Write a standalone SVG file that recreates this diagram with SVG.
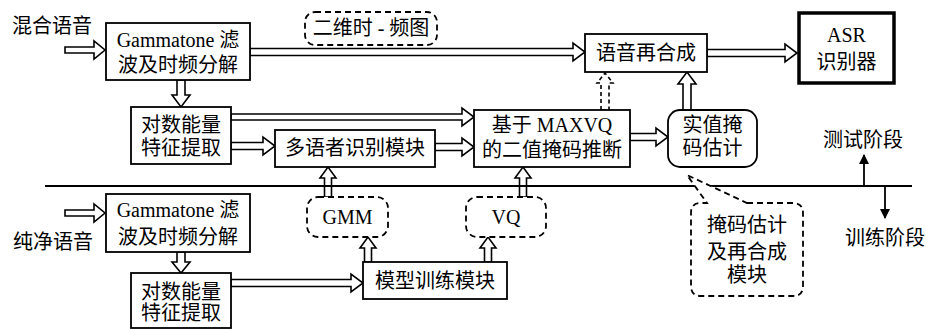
<svg xmlns="http://www.w3.org/2000/svg" width="926" height="329" viewBox="0 0 926 329">
<defs>
<style>
text{font-family:"Liberation Serif","Noto Sans CJK SC",serif;font-size:20px;fill:#000}
.c{text-anchor:middle}
.box{fill:#fff;stroke:#000;stroke-width:1.8}
.dbox{fill:#fff;stroke:#000;stroke-width:1.8;stroke-dasharray:6 4}
.ha{fill:#fff;stroke:#000;stroke-width:1.6;stroke-linejoin:miter}
.hd{fill:#fff;stroke:#000;stroke-width:1.6;stroke-dasharray:4 3}
.ln{stroke:#000;stroke-width:1.8;fill:none}
</style>
<marker id="ah" markerWidth="10" markerHeight="10" refX="9" refY="5" orient="auto" markerUnits="userSpaceOnUse">
<path d="M0,0 L10,5 L0,10 Z" fill="#000"/>
</marker>
</defs>

<g id="labels">
<text x="12" y="33">混合语音</text>
<text x="13" y="249">纯净语音</text>
<text x="823" y="147">测试阶段</text>
<text x="845" y="245">训练阶段</text>
</g>

<g id="connectors">
<!-- inputs -->
<polygon class="ha" points="65,47 94,47 94,41 105,50 94,59 94,53 65,53"/>
<polygon class="ha" points="65,210 94,210 94,204 105,213 94,222 94,216 65,216"/>
<!-- gammatone -> feature -->
<polygon class="ha" points="177,80 177,95 172,95 181,107 190,95 185,95 185,80"/>
<polygon class="ha" points="177,252 177,262 172,262 181,273 190,262 185,262 185,252"/>
<!-- gammatone -> 语音再合成 -->
<polygon class="ha" points="250,48.5 573,48.5 573,43 585,52 573,61 573,55.5 250,55.5"/>
<!-- feature -> MAXVQ -->
<polygon class="ha" points="231,114 462,114 462,108 474,117 462,126 462,120 231,120"/>
<!-- feature -> 多语者 -->
<polygon class="ha" points="231,142.5 263,142.5 263,137 275,146 263,155 263,149.5 231,149.5"/>
<!-- 多语者 -> MAXVQ -->
<polygon class="ha" points="435,143.5 462,143.5 462,138 474,147 462,156 462,150.5 435,150.5"/>
<!-- MAXVQ -> 实值 -->
<polygon class="ha" points="630,133.5 656,133.5 656,128 668,137 656,146 656,140.5 630,140.5"/>
<!-- 语音再合成 -> ASR -->
<polygon class="ha" points="707,49.5 785,49.5 785,44 797,53 785,62 785,56.5 707,56.5"/>
<!-- 实值 -> 语音再合成 -->
<polygon class="ha" points="683,110 683,84 678,84 687,72 696,84 691,84 691,110"/>
<!-- MAXVQ -> 语音再合成 dashed -->
<polygon class="hd" points="601,110 601,83 597,83 605,73 613,83 609,83 609,110"/>
<!-- feature2 -> model training -->
<polygon class="ha" points="231,279.5 351,279.5 351,274 363,283 351,292 351,286.5 231,286.5"/>
<!-- model -> GMM -->
<polygon class="ha" points="364.5,262 364.5,248 360,248 368,237 376,248 371.5,248 371.5,262"/>
<!-- model -> VQ -->
<polygon class="ha" points="484.5,262 484.5,248 480,248 488,237 496,248 491.5,248 491.5,262"/>
<!-- GMM -> 多语者 -->
<polygon class="ha" points="324.5,197 324.5,178 320,178 328,167 336,178 331.5,178 331.5,197"/>
<!-- VQ -> MAXVQ -->
<polygon class="ha" points="519.5,197 519.5,178 515,178 523,167 531,178 526.5,178 526.5,197"/>
<!-- separator -->
<line class="ln" x1="45" y1="186" x2="912" y2="186"/>
<line class="ln" x1="864" y1="186" x2="864" y2="155" marker-end="url(#ah)"/>
<line class="ln" x1="885" y1="186" x2="885" y2="218" marker-end="url(#ah)"/>
</g>

<g id="gammatone1">
<rect class="box" x="106" y="23" width="144" height="57"/>
<text class="c" x="178" y="47">Gammatone 滤</text>
<text class="c" x="178" y="72">波及时频分解</text>
</g>

<g id="feature1">
<rect class="box" x="131" y="107" width="100" height="57"/>
<text class="c" x="181" y="132">对数能量</text>
<text class="c" x="181" y="155">特征提取</text>
</g>

<g id="tf-map">
<rect class="dbox" x="305" y="12" width="132" height="33" rx="10"/>
<text class="c" x="371" y="35">二维时 - 频图</text>
</g>

<g id="speaker-id">
<rect class="box" x="275" y="130" width="160" height="37"/>
<text class="c" x="355" y="155">多语者识别模块</text>
</g>

<g id="maxvq">
<rect class="box" x="474" y="110" width="156" height="57"/>
<text class="c" x="552" y="132">基于 MAXVQ</text>
<text class="c" x="552" y="157">的二值掩码推断</text>
</g>

<g id="resynth">
<rect class="box" x="585" y="34" width="122" height="38"/>
<text class="c" x="646" y="60">语音再合成</text>
</g>

<g id="asr">
<rect x="799" y="13" width="95" height="70" fill="#fff" stroke="#000" stroke-width="3.5"/>
<text class="c" x="846.5" y="42">ASR</text>
<text class="c" x="846.5" y="69">识别器</text>
</g>

<g id="realmask">
<rect class="box" x="668" y="110" width="89" height="57" rx="12"/>
<text class="c" x="712.5" y="132">实值掩</text>
<text class="c" x="712.5" y="155">码估计</text>
</g>

<g id="gammatone2">
<rect class="box" x="106" y="194" width="144" height="58"/>
<text class="c" x="178" y="217">Gammatone 滤</text>
<text class="c" x="178" y="244">波及时频分解</text>
</g>

<g id="feature2">
<rect class="box" x="131" y="273" width="100" height="55"/>
<text class="c" x="181" y="299">对数能量</text>
<text class="c" x="181" y="320">特征提取</text>
</g>

<g id="gmm">
<rect class="dbox" x="307" y="197" width="81" height="40" rx="11"/>
<text class="c" x="347.5" y="224">GMM</text>
</g>

<g id="vq">
<rect class="dbox" x="466" y="197" width="80" height="40" rx="11"/>
<text class="c" x="506" y="224">VQ</text>
</g>

<g id="model-training">
<rect class="box" x="363" y="262" width="144" height="37"/>
<text class="c" x="435" y="288">模型训练模块</text>
</g>

<g id="callout">
<path class="dbox" d="M747,203 L793,203 Q803,203 803,213 L803,286 Q803,296 793,296 L701,296 Q691,296 691,286 L691,213 Q691,203 701,203 L707,203 L687,175 Z"/>
<text class="c" x="747" y="232">掩码估计</text>
<text class="c" x="747" y="259">及再合成</text>
<text class="c" x="747" y="282">模块</text>
</g>
</svg>
